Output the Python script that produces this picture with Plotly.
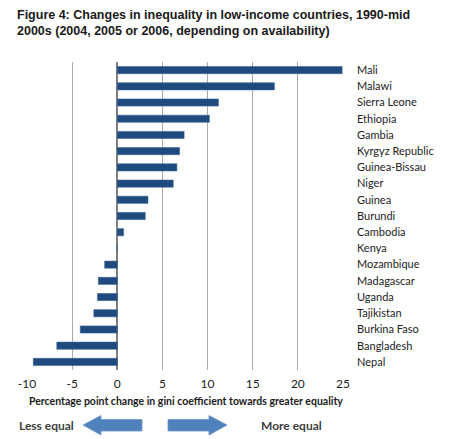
import plotly.graph_objects as go

countries = ["Mali", "Malawi", "Sierra Leone", "Ethiopia", "Gambia", "Kyrgyz Republic",
             "Guinea-Bissau", "Niger", "Guinea", "Burundi", "Cambodia", "Kenya",
             "Mozambique", "Madagascar", "Uganda", "Tajikistan", "Burkina Faso",
             "Bangladesh", "Nepal"]
changes = [24.9, 17.4, 11.2, 10.2, 7.4, 6.9, 6.6, 6.2, 3.4, 3.1, 0.7, 0.0,
           -1.4, -2.1, -2.2, -2.6, -4.1, -6.7, -9.3]
x_ticks = [-10, -5, 0, 5, 10, 15, 20, 25]

W, H = 455, 439
L, R, T, B = 27, 343, 62, 370

def px(x):
    return (x - L) / (R - L)

def py(y):
    return (B - y) / (B - T)

fig = go.Figure(go.Bar(
    y=countries, x=changes, orientation="h",
    marker=dict(color="#1F4A7E", line=dict(color="#3A6496", width=0.6)),
    width=0.44,
))

arrow_color = "#4F81BD"
left_arrow = (f"M {px(83)},{py(425)} L {px(101)},{py(415.5)} L {px(101)},{py(419.5)} "
              f"L {px(142)},{py(419.5)} L {px(142)},{py(431)} L {px(101)},{py(431)} "
              f"L {px(101)},{py(435)} Z")
right_arrow = (f"M {px(227)},{py(425)} L {px(209)},{py(415.5)} L {px(209)},{py(419.5)} "
               f"L {px(168)},{py(419.5)} L {px(168)},{py(431)} L {px(209)},{py(431)} "
               f"L {px(209)},{py(435)} Z")

title_font = dict(family="Liberation Sans, Arial", size=12.5, color="#1a1a1a")

fig.update_layout(
    width=W, height=H,
    margin=dict(l=L, r=W - R, t=T, b=H - B),
    paper_bgcolor="white", plot_bgcolor="white",
    showlegend=False,
    xaxis=dict(
        range=[-10, 25], tickvals=x_ticks, ticktext=[str(v) for v in x_ticks],
        showgrid=True, gridcolor="#ABABAB", gridwidth=1,
        zeroline=True, zerolinecolor="#7F7F7F", zerolinewidth=1.5,
        showline=False, ticks="", ticklabelstandoff=5,
        tickfont=dict(family="Lato, Open Sans", size=12, color="#222222"),
        fixedrange=True,
    ),
    yaxis=dict(
        categoryorder="array", categoryarray=countries,
        autorange=False, range=[18.5, -0.5],
        side="right", showgrid=False, zeroline=False, showline=False,
        ticks="", ticklabelstandoff=13,
        tickfont=dict(family="Lato, Open Sans", size=11, color="#222222"),
        fixedrange=True,
    ),
    bargap=0.56,
    shapes=[
        dict(type="path", xref="paper", yref="paper", path=left_arrow,
             fillcolor=arrow_color, line=dict(color="#6F95C8", width=0.8)),
        dict(type="path", xref="paper", yref="paper", path=right_arrow,
             fillcolor=arrow_color, line=dict(color="#6F95C8", width=0.8)),
    ],
    annotations=[
        dict(text="<b>Figure 4: Changes in inequality in low-income countries, 1990-mid</b>",
             xref="paper", yref="paper", x=px(15), y=py(15), xanchor="left", yanchor="middle",
             showarrow=False, font=title_font),
        dict(text="<b>2000s (2004, 2005 or 2006, depending on availability)</b>",
             xref="paper", yref="paper", x=px(15), y=py(31), xanchor="left", yanchor="middle",
             showarrow=False, font=title_font),
        dict(text="<b>Percentage point change in gini coefficient towards greater equality</b>",
             xref="paper", yref="paper", x=px(186), y=py(401), xanchor="center", yanchor="middle",
             showarrow=False, font=dict(family="Lato, Open Sans", size=10.5, color="#1a1a1a")),
        dict(text="<b>Less equal</b>", xref="paper", yref="paper", x=px(17), y=py(425),
             xanchor="left", yanchor="middle", showarrow=False,
             font=dict(family="Lato, Open Sans", size=12, color="#404040")),
        dict(text="<b>More equal</b>", xref="paper", yref="paper", x=px(259), y=py(425),
             xanchor="left", yanchor="middle", showarrow=False,
             font=dict(family="Lato, Open Sans", size=12, color="#404040")),
    ],
)

fig.write_html("out.html")
